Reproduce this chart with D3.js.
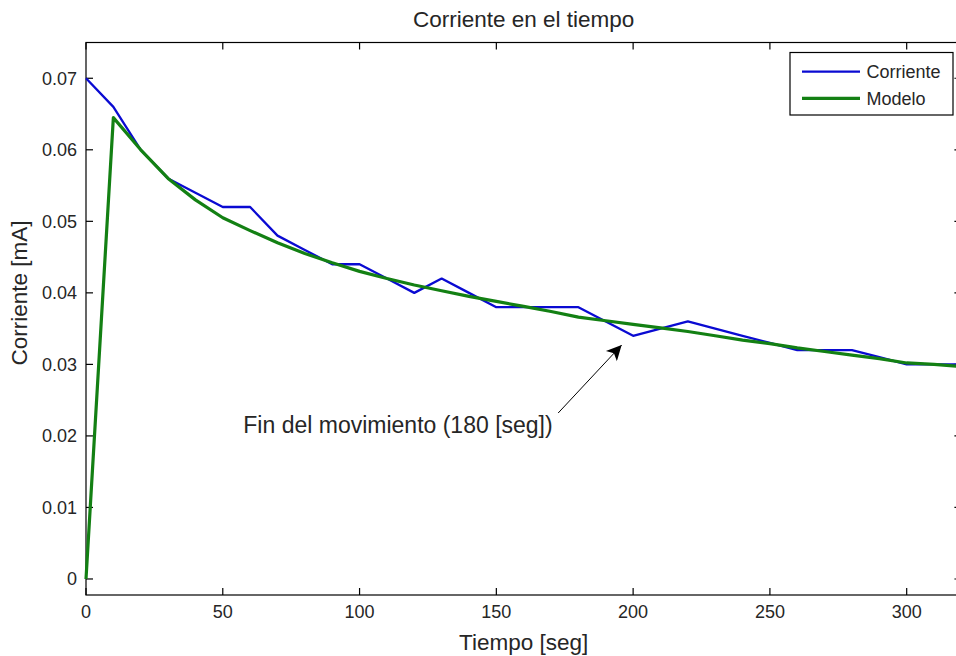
<!DOCTYPE html>
<html>
<head>
<meta charset="utf-8">
<script src="https://cdn.jsdelivr.net/npm/d3@7"></script>
<style>
  body { margin: 0; background: #fff; }
  text { font-family: "Liberation Sans", Arial, sans-serif; fill: #262626; }
</style>
</head>
<body>
<svg id="chart" width="956" height="656"></svg>
<script>
// data (time in seconds, current in mA)
const tiempo = [0, 10, 20, 30, 40, 50, 60, 70, 80, 90, 100, 110, 120, 130, 140, 150, 160,
  170, 180, 190, 200, 210, 220, 230, 240, 250, 260, 270, 280, 290, 300, 310, 320];
const corriente = [0.070, 0.066, 0.060, 0.056, 0.054, 0.052, 0.052, 0.048, 0.046, 0.044, 0.044,
  0.042, 0.040, 0.042, 0.040, 0.038, 0.038, 0.038, 0.038, 0.036, 0.034, 0.035, 0.036, 0.035,
  0.034, 0.033, 0.032, 0.032, 0.032, 0.031, 0.030, 0.030, 0.030];
const modelo = [0, 0.0645, 0.0600, 0.0560, 0.0530, 0.0505, 0.0487, 0.0470, 0.0455, 0.0442, 0.0430,
  0.0420, 0.0411, 0.0403, 0.0395, 0.0388, 0.0381, 0.0374, 0.0366, 0.0361, 0.0356, 0.0351, 0.0346,
  0.0340, 0.0334, 0.0329, 0.0323, 0.0318, 0.0313, 0.0308, 0.0302, 0.0300, 0.0297];
const xTicks = [0, 50, 100, 150, 200, 250, 300];
const yTicks = [0, 0.01, 0.02, 0.03, 0.04, 0.05, 0.06, 0.07];
const seriesNames = ["Corriente", "Modelo"];
const seriesColors = ["#0a0ad2", "#138013"];

// annotation: arrow tip / tail and text position in data units
const flecha = { t0: 172.6, v0: 0.0232, t1: 195.8, v1: 0.0327 };
const nota = { t: 57.5, v: 0.0204, texto: "Fin del movimiento (180 [seg])" };

const svg = d3.select("#chart");

// scales (axes box runs a bit past the right edge of the window)
const x = d3.scaleLinear().domain([0, 320]).range([86, 961.4]);
const y = d3.scaleLinear().domain([-0.00224, 0.075]).range([595, 42.5]);

const axLeft = x.range()[0], axRight = x.range()[1];
const axTop = y.range()[1], axBottom = y.range()[0];
const tickLen = 7;

// axes box
svg.append("rect")
  .attr("x", axLeft).attr("y", axTop)
  .attr("width", axRight - axLeft).attr("height", axBottom - axTop)
  .attr("fill", "none").attr("stroke", "#000").attr("stroke-width", 1.2);

// inward ticks on all four sides
const ticks = svg.append("g").attr("stroke", "#000").attr("stroke-width", 1.2);
xTicks.forEach(function (t) {
  ticks.append("line").attr("x1", x(t)).attr("x2", x(t)).attr("y1", axBottom).attr("y2", axBottom - tickLen);
  ticks.append("line").attr("x1", x(t)).attr("x2", x(t)).attr("y1", axTop).attr("y2", axTop + tickLen);
});
yTicks.forEach(function (v) {
  ticks.append("line").attr("x1", axLeft).attr("x2", axLeft + tickLen).attr("y1", y(v)).attr("y2", y(v));
  ticks.append("line").attr("x1", axRight).attr("x2", axRight - tickLen).attr("y1", y(v)).attr("y2", y(v));
});

// tick labels
svg.append("g").selectAll("text")
  .data(xTicks)
  .join("text")
  .attr("x", d => x(d))
  .attr("y", 618)
  .attr("text-anchor", "middle")
  .attr("font-size", 18)
  .text(d => d);

svg.append("g").selectAll("text")
  .data(yTicks)
  .join("text")
  .attr("x", 77)
  .attr("y", d => y(d) + 6.5)
  .attr("text-anchor", "end")
  .attr("font-size", 18)
  .text(d => d === 0 ? "0" : d3.format(".2f")(d));

// titles
svg.append("text")
  .attr("x", (axLeft + axRight) / 2).attr("y", 27)
  .attr("text-anchor", "middle").attr("font-size", 22.5)
  .text("Corriente en el tiempo");

svg.append("text")
  .attr("x", (axLeft + axRight) / 2).attr("y", 650)
  .attr("text-anchor", "middle").attr("font-size", 22.5)
  .text("Tiempo [seg]");

svg.append("text")
  .attr("transform", "translate(27,293) rotate(-90)")
  .attr("text-anchor", "middle").attr("font-size", 22.5)
  .text("Corriente [mA]");

// lines
const line = d3.line()
  .x((d, i) => x(tiempo[i]))
  .y(d => y(d));

const plot = svg.append("g");
plot.append("path")
  .attr("d", line(corriente))
  .attr("fill", "none")
  .attr("stroke", seriesColors[0])
  .attr("stroke-width", 2.3)
  .attr("stroke-linejoin", "round");

plot.append("path")
  .attr("d", line(modelo))
  .attr("fill", "none")
  .attr("stroke", seriesColors[1])
  .attr("stroke-width", 3.2)
  .attr("stroke-linejoin", "round");

// annotation arrow
svg.append("defs").append("marker")
  .attr("id", "head")
  .attr("viewBox", "0 0 10 10")
  .attr("refX", 10).attr("refY", 5)
  .attr("markerWidth", 20).attr("markerHeight", 15)
  .attr("markerUnits", "userSpaceOnUse")
  .attr("orient", "auto")
  .append("path")
  .attr("d", "M0,0 L10,5 L0,10 L2.5,5 Z")
  .attr("fill", "#000");

svg.append("line")
  .attr("x1", x(flecha.t0)).attr("y1", y(flecha.v0))
  .attr("x2", x(flecha.t1)).attr("y2", y(flecha.v1))
  .attr("stroke", "#000").attr("stroke-width", 1)
  .attr("marker-end", "url(#head)");

svg.append("text")
  .attr("x", x(nota.t)).attr("y", y(nota.v))
  .attr("font-size", 23)
  .text(nota.texto);

// legend
const legend = svg.append("g");
legend.append("rect")
  .attr("x", 790).attr("y", 52.5)
  .attr("width", 163).attr("height", 62.5)
  .attr("fill", "#fff").attr("stroke", "#000").attr("stroke-width", 1.2);

seriesNames.forEach(function (name, i) {
  const ly = 71.7 + i * 26.6;
  legend.append("line")
    .attr("x1", 802).attr("x2", 860)
    .attr("y1", ly).attr("y2", ly)
    .attr("stroke", seriesColors[i])
    .attr("stroke-width", i === 0 ? 2.3 : 3.2);
  legend.append("text")
    .attr("x", 866.5).attr("y", ly + 6.5)
    .attr("font-size", 18)
    .text(name);
});
</script>
</body>
</html>
